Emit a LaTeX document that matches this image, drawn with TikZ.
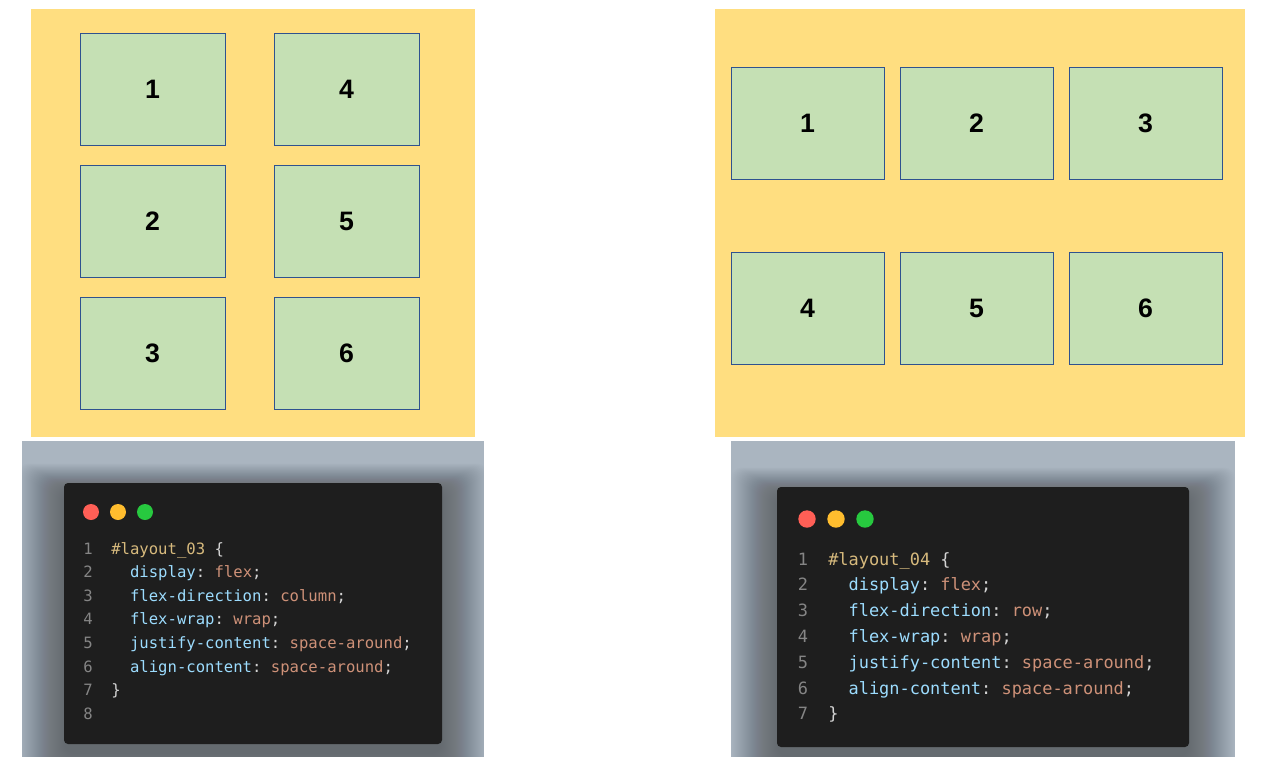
\documentclass[tikz,border=0pt]{standalone}
\usepackage{fontspec}
\setmainfont{Liberation Sans}
\setmonofont{DejaVu Sans Mono}

\definecolor{container}{HTML}{FFDE80}
\definecolor{itemfill}{HTML}{C5E0B4}
\definecolor{itemline}{HTML}{2F528F}
\definecolor{backdrop}{HTML}{AAB5C0}
\definecolor{editor}{HTML}{1E1E1E}
\definecolor{dotred}{HTML}{FF5F56}
\definecolor{dotyellow}{HTML}{FFBD2E}
\definecolor{dotgreen}{HTML}{27C93F}
\definecolor{csssel}{HTML}{D7BA7D}
\definecolor{cssprop}{HTML}{9CDCFE}
\definecolor{cssval}{HTML}{CE9178}
\definecolor{csspunct}{HTML}{D4D4D4}
\definecolor{lineno}{HTML}{858585}

\newcommand{\sel}[1]{\textcolor{csssel}{#1}}
\newcommand{\prop}[1]{\textcolor{cssprop}{#1}}
\newcommand{\val}[1]{\textcolor{cssval}{#1}}
\newcommand{\pun}[1]{\textcolor{csspunct}{#1}}

\tikzset{
  flexbox/.style={fill=container, draw=none},
  itembox/.style={fill=itemfill, draw=itemline, line width=0.75pt, inner sep=0pt,
    font=\bfseries\fontsize{20}{20}\selectfont, text=black},
  narrowitem/.style={itembox, minimum width=108.75pt, minimum height=84pt},
  wideitem/.style={itembox, minimum width=114.75pt, minimum height=84pt},
  editorpanel/.style={fill=editor, rounded corners=3pt},
  codeS/.style={anchor=base west, inner sep=0pt, font=\ttfamily\fontsize{11.7}{14}\selectfont},
  codeL/.style={anchor=base west, inner sep=0pt, font=\ttfamily\fontsize{12.7}{15}\selectfont},
  numS/.style={anchor=base, inner sep=0pt, text=lineno, font=\ttfamily\fontsize{11.7}{14}\selectfont},
  numL/.style={anchor=base, inner sep=0pt, text=lineno, font=\ttfamily\fontsize{12.7}{15}\selectfont},
}

\begin{document}
\begin{tikzpicture}[x=0.75pt,y=-0.75pt]
\useasboundingbox[fill=white] (0,0) rectangle (1261,757);

% ---------- flex-direction: column ----------
\fill[flexbox] (31,9) rectangle (475,437);
\node[narrowitem] (c1) at (152.5,89)  {\raisebox{-1pt}{1}};
\node[narrowitem] (c2) at (152.5,221) {\raisebox{-1pt}{2}};
\node[narrowitem] (c3) at (152.5,353.5) {\raisebox{-1pt}{3}};
\node[narrowitem] (c4) at (346.5,89)  {\raisebox{-1pt}{4}};
\node[narrowitem] (c5) at (346.5,221) {\raisebox{-1pt}{5}};
\node[narrowitem] (c6) at (346.5,353.5) {\raisebox{-1pt}{6}};

% ---------- flex-direction: row ----------
\fill[flexbox] (715,9) rectangle (1245,437);
\node[wideitem] (r1) at (807.5,123)  {\raisebox{-1pt}{1}};
\node[wideitem] (r2) at (976.5,123)  {\raisebox{-1pt}{2}};
\node[wideitem] (r3) at (1145.5,123) {\raisebox{-1pt}{3}};
\node[wideitem] (r4) at (807.5,308)  {\raisebox{-1pt}{4}};
\node[wideitem] (r5) at (976.5,308)  {\raisebox{-1pt}{5}};
\node[wideitem] (r6) at (1145.5,308) {\raisebox{-1pt}{6}};

% ---------- code window for #layout_03 ----------
\fill[backdrop] (22,441) rectangle (484,757);
\begin{scope}
  \clip (22,441) rectangle (484,757);
  \foreach \i in {0,1,...,46}
    \fill[black, opacity=0.0075, rounded corners=8pt]
      (64-\i,483-\i*0.6+8) rectangle (442+\i,744+\i+10);
\end{scope}
\fill[editorpanel] (64,483) rectangle (442,744);
\fill[dotred]    (91,512)  circle[radius=8];
\fill[dotyellow] (118,512) circle[radius=8];
\fill[dotgreen]  (145,512) circle[radius=8];

\foreach \n [count=\k from 0] in {1,...,8}
  \node[numS] (ln3-\n) at (88,554+23.6*\k) {\n};
\node[codeS] (a1) at (111,554)      {\sel{\#layout\_03} \pun{\{}};
\node[codeS] (a2) at (111,577.6)    {\ \ \prop{display}\pun{:} \val{flex}\pun{;}};
\node[codeS] (a3) at (111,601.2)    {\ \ \prop{flex-direction}\pun{:} \val{column}\pun{;}};
\node[codeS] (a4) at (111,624.8)    {\ \ \prop{flex-wrap}\pun{:} \val{wrap}\pun{;}};
\node[codeS] (a5) at (111,648.4)    {\ \ \prop{justify-content}\pun{:} \val{space-around}\pun{;}};
\node[codeS] (a6) at (111,672.0)    {\ \ \prop{align-content}\pun{:} \val{space-around}\pun{;}};
\node[codeS] (a7) at (111,695.6)    {\pun{\}}};

% ---------- code window for #layout_04 ----------
\fill[backdrop] (731,441) rectangle (1235,757);
\begin{scope}
  \clip (731,441) rectangle (1235,757);
  \foreach \i in {0,1,...,46}
    \fill[black, opacity=0.0075, rounded corners=8pt]
      (777-\i,487-\i*0.6+8) rectangle (1189+\i,747+\i+10);
\end{scope}
\fill[editorpanel] (777,487) rectangle (1189,747);
\fill[dotred]    (807,519) circle[radius=8.7];
\fill[dotyellow] (836,519) circle[radius=8.7];
\fill[dotgreen]  (865,519) circle[radius=8.7];

\foreach \n [count=\k from 0] in {1,...,7}
  \node[numL] (ln4-\n) at (803,565+25.8*\k) {\n};
\node[codeL] (b1) at (828,565)      {\sel{\#layout\_04} \pun{\{}};
\node[codeL] (b2) at (828,590.8)    {\ \ \prop{display}\pun{:} \val{flex}\pun{;}};
\node[codeL] (b3) at (828,616.6)    {\ \ \prop{flex-direction}\pun{:} \val{row}\pun{;}};
\node[codeL] (b4) at (828,642.4)    {\ \ \prop{flex-wrap}\pun{:} \val{wrap}\pun{;}};
\node[codeL] (b5) at (828,668.2)    {\ \ \prop{justify-content}\pun{:} \val{space-around}\pun{;}};
\node[codeL] (b6) at (828,694.0)    {\ \ \prop{align-content}\pun{:} \val{space-around}\pun{;}};
\node[codeL] (b7) at (828,719.8)    {\pun{\}}};
\end{tikzpicture}
\end{document}
